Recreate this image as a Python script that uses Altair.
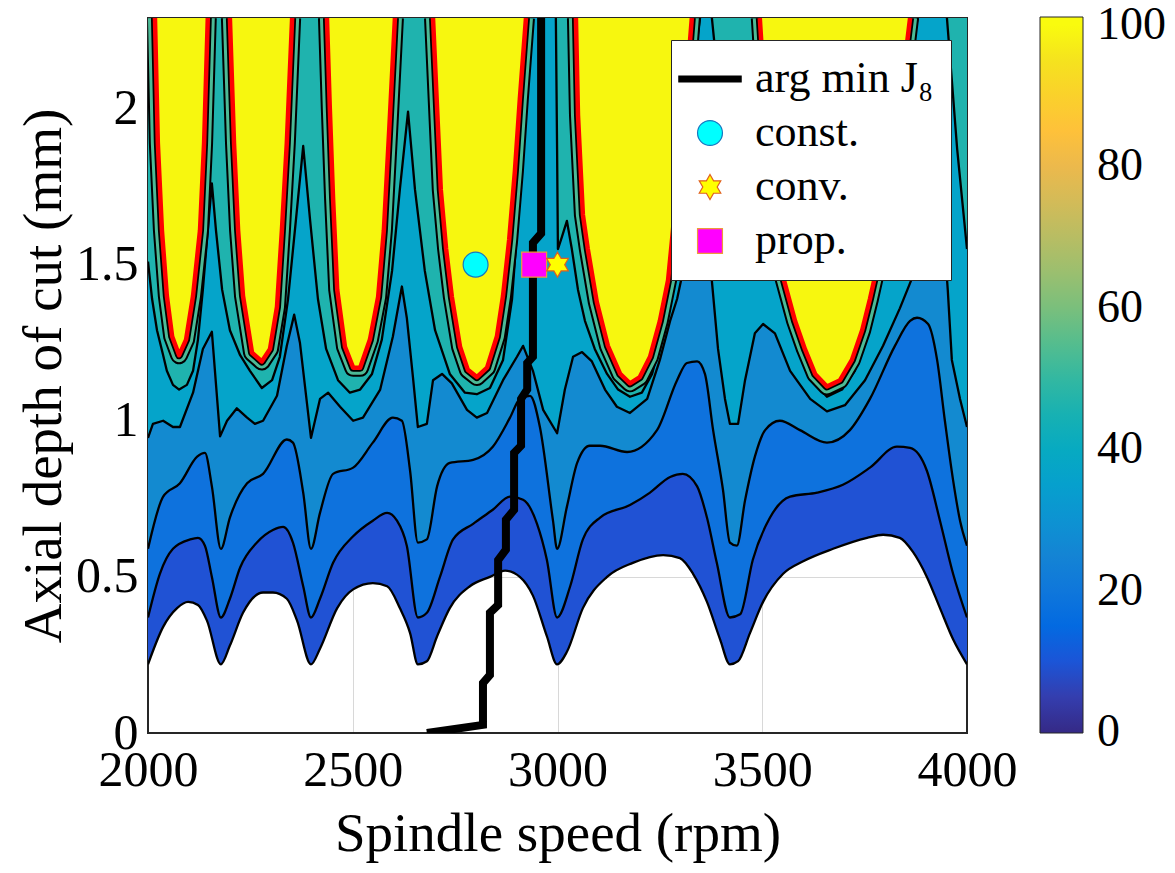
import altair as alt
import pandas as pd

FONT = "Liberation Serif"
X_DOMAIN = [2000, 4000]
Y_TOP = 2.29
X_TICKS = [2000, 2500, 3000, 3500, 4000]
Y_TICKS = [0, 0.5, 1, 1.5, 2]

# ---------------- contour boundaries (rpm, mm) ----------------
L0_X = [2000, 2037, 2071, 2098, 2122, 2144, 2178, 2200, 2232, 2281, 2305, 2339, 2364, 2398,
        2420, 2462, 2501, 2549, 2584, 2615, 2640, 2659, 2681, 2706, 2737, 2786, 2835, 2872,
        2908, 2940, 2974, 2999, 3023, 3062, 3121, 3184, 3258, 3299, 3331, 3365, 3397, 3421,
        3441, 3470, 3502, 3551, 3600, 3673, 3756, 3795, 3836, 3868, 3902, 3934, 3966, 4000]
L0_Y = [0.22, 0.34, 0.40, 0.42, 0.41, 0.36, 0.22, 0.28, 0.385, 0.45, 0.45, 0.43, 0.36, 0.22,
        0.27, 0.40, 0.46, 0.48, 0.47, 0.40, 0.32, 0.22, 0.23, 0.31, 0.40, 0.47, 0.50, 0.52,
        0.50, 0.44, 0.31, 0.22, 0.26, 0.40, 0.50, 0.545, 0.57, 0.56, 0.51, 0.42, 0.30, 0.22,
        0.23, 0.32, 0.42, 0.51, 0.55, 0.59, 0.625, 0.635, 0.625, 0.58, 0.50, 0.40, 0.30, 0.22]

L1_X = [2000, 2029, 2061, 2103, 2122, 2139, 2156, 2178, 2200, 2225, 2266, 2305, 2330, 2354,
        2379, 2398, 2420, 2452, 2501, 2549, 2584, 2608, 2632, 2659, 2681, 2713, 2745, 2794,
        2842, 2884, 2916, 2950, 2974, 2999, 3031, 3062, 3104, 3177, 3226, 3275, 3306, 3341,
        3365, 3389, 3421, 3446, 3477, 3519, 3568, 3634, 3697, 3763, 3829, 3861, 3902, 3934,
        3966, 4000]
L1_Y = [0.37, 0.51, 0.59, 0.62, 0.625, 0.60, 0.50, 0.37, 0.43, 0.53, 0.61, 0.65, 0.66, 0.61,
        0.47, 0.37, 0.43, 0.545, 0.63, 0.68, 0.705, 0.68, 0.60, 0.37, 0.385, 0.50, 0.62, 0.67,
        0.715, 0.757, 0.747, 0.67, 0.555, 0.37, 0.47, 0.62, 0.69, 0.73, 0.77, 0.82, 0.83, 0.79,
        0.69, 0.545, 0.37, 0.38, 0.555, 0.69, 0.757, 0.77, 0.795, 0.85, 0.917, 0.913, 0.84, 0.68,
        0.51, 0.37]

L2_X = [2000, 2037, 2078, 2120, 2139, 2156, 2178, 2200, 2242, 2281, 2339, 2354, 2379, 2398,
        2420, 2452, 2501, 2549, 2598, 2620, 2640, 2659, 2681, 2706, 2737, 2794, 2842, 2884,
        2908, 2933, 2957, 2989, 2999, 3023, 3048, 3079, 3104, 3170, 3243, 3292, 3316, 3341,
        3360, 3380, 3404, 3421, 3438, 3458, 3482, 3507, 3543, 3592, 3658, 3714, 3763, 3824,
        3861, 3878, 3905, 3927, 3946, 3966, 3983, 4000]
L2_Y = [0.59, 0.757, 0.80, 0.885, 0.897, 0.79, 0.59, 0.69, 0.80, 0.83, 0.94, 0.93, 0.77, 0.59,
        0.705, 0.83, 0.85, 0.93, 1.01, 1.00, 0.84, 0.61, 0.62, 0.79, 0.865, 0.875, 0.917, 1.01,
        1.07, 1.08, 0.98, 0.68, 0.59, 0.725, 0.865, 0.92, 0.92, 0.90, 0.97, 1.13, 1.185, 1.19,
        1.15, 0.97, 0.78, 0.61, 0.60, 0.745, 0.885, 0.97, 1.00, 0.97, 0.93, 0.97, 1.07, 1.24,
        1.32, 1.33, 1.31, 1.195, 1.00, 0.81, 0.68, 0.60]

L3_X = [2000, 2012, 2037, 2061, 2078, 2110, 2134, 2156, 2176, 2193, 2217, 2242, 2261, 2281,
        2315, 2339, 2357, 2371, 2398, 2420, 2440, 2469, 2501, 2525, 2567, 2598, 2620, 2632,
        2647, 2659, 2681, 2696, 2718, 2742, 2779, 2803, 2828, 2867, 2901, 2916, 2940, 2965,
        2999, 3018, 3038, 3060, 3084, 3116, 3145, 3177, 3219, 3250, 3275, 3292, 3323, 3348,
        3372, 3392, 3409, 3421, 3441, 3458, 3482, 3502, 3531, 3568, 3617, 3658, 3702, 3751,
        3795, 3836, 3873, 3910, 3946, 3953, 3963, 3983, 4000]
L3_Y = [0.945, 0.99, 1.00, 0.98, 0.98, 1.09, 1.23, 1.285, 0.95, 1.00, 1.04, 1.01, 0.99, 1.00,
        1.08, 1.24, 1.34, 1.25, 0.945, 1.07, 1.09, 1.045, 1.00, 1.01, 1.10, 1.27, 1.43, 1.33,
        1.14, 0.98, 0.99, 1.13, 1.15, 1.12, 1.035, 1.01, 1.025, 1.13, 1.205, 1.24, 1.16, 1.035,
        0.96, 1.10, 1.205, 1.22, 1.19, 1.10, 1.045, 1.025, 1.07, 1.195, 1.32, 1.39, 1.58, 1.71,
        1.52, 1.23, 1.07, 0.99, 0.99, 1.13, 1.28, 1.31, 1.28, 1.16, 1.07, 1.03, 1.05, 1.13,
        1.24, 1.36, 1.48, 1.58, 1.55, 1.42, 1.195, 1.07, 0.98]

L4_X = [2000, 2010, 2022, 2037, 2046, 2061, 2076, 2095, 2110, 2122, 2134, 2146, 2156, 2166,
        2181, 2200, 2225, 2249, 2278, 2303, 2322, 2342, 2361, 2379, 2396, 2415, 2435, 2464,
        2493, 2518, 2547, 2571, 2596, 2615, 2635, 2652, 2676, 2701, 2737, 2774, 2803, 2835,
        2867, 2889, 2903, 2913, 2926, 2957, 2996, 2999, 3001, 3011, 3023, 3035, 3050, 3067,
        3091, 3121, 3148, 3177, 3206, 3231, 3250, 3267, 3280, 3294, 3323, 3341, 3348, 3363,
        3377, 3387, 3402, 3416, 3429, 3441, 3458, 3475, 3485, 3492, 3499, 3514, 3531, 3543,
        3568, 3592, 3621, 3658, 3695, 3726, 3751, 3775, 3795, 3824, 3849, 3873, 3880, 3915,
        3951, 3963, 3976, 3988, 4000]
L4_Y = [1.51, 1.39, 1.29, 1.21, 1.16, 1.115, 1.10, 1.115, 1.16, 1.26, 1.42, 1.61, 1.76, 1.61,
        1.42, 1.29, 1.21, 1.16, 1.105, 1.13, 1.205, 1.39, 1.64, 1.88, 1.64, 1.39, 1.23, 1.13,
        1.09, 1.10, 1.15, 1.26, 1.48, 1.74, 1.99, 1.74, 1.48, 1.29, 1.15, 1.09, 1.085, 1.105,
        1.195, 1.39, 1.64, 1.93, 2.29, 2.40, 2.29, 1.87, 1.55, 1.59, 1.64, 1.55, 1.42, 1.32,
        1.23, 1.15, 1.10, 1.077, 1.09, 1.15, 1.245, 1.39, 1.52, 1.71, 2.03, 2.22, 2.29, 2.40,
        2.29, 2.16, 1.87, 1.70, 1.61, 1.70, 1.87, 2.16, 2.29, 2.40, 2.29, 2.03, 1.71, 1.48,
        1.32, 1.22, 1.13, 1.077, 1.10, 1.16, 1.26, 1.39, 1.52, 1.80, 2.06, 2.25, 2.29, 2.40,
        2.29, 2.09, 1.87, 1.71, 1.55]

# stability lobes (red boundary of the saturated region), one list per lobe
LOBE_X = [
    [2017, 2024, 2034, 2046, 2059, 2076, 2093, 2110, 2127, 2137, 2146],
    [2200, 2210, 2220, 2232, 2254, 2278, 2298, 2315, 2327, 2339, 2352],
    [2437, 2444, 2452, 2462, 2481, 2501, 2518, 2542, 2562, 2576, 2589, 2603],
    [2696, 2706, 2715, 2728, 2742, 2762, 2781, 2803, 2828, 2852, 2867, 2882, 2896, 2908, 2923],
    [3045, 3050, 3062, 3074, 3096, 3123, 3153, 3177, 3201, 3226, 3250, 3270, 3282, 3299, 3316, 3328],
    [3494, 3514, 3533, 3551, 3580, 3604, 3629, 3658, 3690, 3719, 3744, 3763, 3775, 3800, 3829, 3849, 3861],
]
LOBE_Y = [
    [2.29, 1.89, 1.61, 1.40, 1.27, 1.21, 1.26, 1.40, 1.61, 1.89, 2.29],
    [2.29, 1.89, 1.61, 1.40, 1.218, 1.19, 1.23, 1.365, 1.61, 1.89, 2.29],
    [2.29, 2.00, 1.71, 1.42, 1.237, 1.17, 1.17, 1.26, 1.397, 1.61, 1.93, 2.29],
    [2.29, 2.00, 1.74, 1.55, 1.397, 1.237, 1.163, 1.14, 1.17, 1.27, 1.40, 1.58, 1.80, 2.03, 2.29],
    [2.29, 1.98, 1.66, 1.55, 1.38, 1.24, 1.15, 1.12, 1.14, 1.205, 1.32, 1.45, 1.61, 1.87, 2.09, 2.29],
    [2.29, 1.87, 1.58, 1.46, 1.32, 1.23, 1.15, 1.11, 1.13, 1.195, 1.29, 1.39, 1.46, 1.64, 1.93, 2.16, 2.29],
]

# arg min J8 path
ARG_X = [2681, 2818, 2818, 2835, 2835, 2855, 2855, 2874, 2874, 2894, 2894, 2911, 2911, 2926,
         2926, 2940, 2940, 2960, 2960]
ARG_Y = [0.0, 0.026, 0.16, 0.186, 0.385, 0.41, 0.554, 0.587, 0.683, 0.715, 0.897, 0.92, 1.07,
         1.10, 1.185, 1.205, 1.57, 1.60, 2.29]

# markers
MARK_SERIES = ["const.", "prop.", "conv."]
MARK_X = [2800, 2943, 3000]
MARK_Y = [1.5, 1.5, 1.5]

LEGEND_NAMES = ["arg min J\u2088", "const.", "conv.", "prop."]
LEGEND_FILL = ["black", "#00FFFF", "#FFFF00", "#FF00FF"]
LEGEND_EDGE = ["black", "#1577C0", "#E0601E", "#EE9A3A"]

CBAR_VALUES = [0, 100]
CBAR_TICKS = [0, 20, 40, 60, 80, 100]
PARULA = ["#352A87", "#352A87", "#343EAF", "#1B55D7", "#036AE1", "#0F77DB", "#1484D4",
          "#0D93D2", "#06A0CD", "#07AAC1", "#18B1B2", "#33B8A1", "#55BD8E", "#7ABF7C",
          "#9BBF6F", "#B8BD63", "#D3BB58", "#ECB94C", "#FEC13A", "#FAD12B", "#F5E31E",
          "#F9FB0E", "#F9FB0E"]
PARULA_DOMAIN = [-0.15, 0, 5, 10, 15, 20, 25, 30, 35, 40, 45, 50, 55, 60, 65, 70, 75, 80,
                 85, 90, 95, 100, 101.1]

BAND_COLORS = ["#2052D4", "#0E72DD", "#138AD0", "#05A4CA", "#1FB3AE"]
YELLOW = "#F7F70F"
RING_GREEN = "#4CBA96"

LINE_PATH = "M-2.5,-0.24H2.5V0.24H-2.5Z"
STAR_PATH = ("M0,-1L0.289,-0.5L0.866,-0.5L0.577,0L0.866,0.5L0.289,0.5L0,1L-0.289,0.5"
             "L-0.866,0.5L-0.577,0L-0.866,-0.5L-0.289,-0.5Z")

# ---------------- data frames ----------------
def curve(xs, ys):
    return pd.DataFrame({"x": xs, "y": ys, "top": [Y_TOP] * len(xs),
                         "i": list(range(len(xs)))})

levels = [curve(L0_X, L0_Y), curve(L1_X, L1_Y), curve(L2_X, L2_Y),
          curve(L3_X, L3_Y), curve(L4_X, L4_Y)]

lobe_rows = []
for k, (xs, ys) in enumerate(zip(LOBE_X, LOBE_Y)):
    for j, (a, b) in enumerate(zip(xs, ys)):
        lobe_rows.append({"lobe": k, "x": a, "y": b, "top": Y_TOP, "i": j})
lobes = pd.DataFrame(lobe_rows)

argmin = curve(ARG_X, ARG_Y)
markers = pd.DataFrame({"series": MARK_SERIES, "x": MARK_X, "y": MARK_Y})
cbar = pd.DataFrame({"v": CBAR_VALUES})

# ---------------- encodings ----------------
X = alt.X("x:Q", scale=alt.Scale(domain=X_DOMAIN, nice=False, zero=False),
          axis=alt.Axis(values=X_TICKS, format="d", title="Spindle speed (rpm)",
                        titleY=117, titleBaseline="alphabetic", labelPadding=12,
                        labelFlush=False))
Y = alt.Y("y:Q", scale=alt.Scale(domain=[0, Y_TOP], nice=False, zero=False), stack=None,
          axis=alt.Axis(values=Y_TICKS, format="~g", title="Axial depth of cut (mm)",
                        titleX=-88, titleBaseline="alphabetic", labelPadding=10,
                        labelFlush=False))
TOP = alt.Y2("top:Q")

layers = []
for k, df in enumerate(levels):
    interp = "monotone" if k < 3 else "linear"
    layers.append(alt.Chart(df).mark_area(color=BAND_COLORS[k], interpolate=interp, clip=True,
                                          orient="vertical")
                  .encode(x=X, y=Y, y2=TOP))
for k, df in enumerate(levels):
    interp = "monotone" if k < 3 else "linear"
    layers.append(alt.Chart(df).mark_line(color="black", strokeWidth=2.3, interpolate=interp,
                                          clip=True, strokeJoin="round")
                  .encode(x=X, y=Y, order=alt.Order("i:Q")))

# rings around lobes, yellow fill, red boundary
for col, w in [("black", 18), (RING_GREEN, 14), ("black", 8)]:
    layers.append(alt.Chart(lobes).mark_line(color=col, strokeWidth=w, clip=True,
                                             strokeJoin="round")
                  .encode(x=X, y=Y, detail="lobe:N", order=alt.Order("i:Q")))
layers.append(alt.Chart(lobes).mark_area(color=YELLOW, clip=True, orient="vertical")
              .encode(x=X, y=Y, y2=TOP, detail="lobe:N"))
layers.append(alt.Chart(lobes).mark_line(color="#FF0000", strokeWidth=4.5, clip=True,
                                         strokeJoin="round")
              .encode(x=X, y=Y, detail="lobe:N", order=alt.Order("i:Q")))

# arg min line
layers.append(alt.Chart(argmin).mark_line(color="black", strokeWidth=8, clip=True,
                                          strokeJoin="miter")
              .encode(x=X, y=Y, order=alt.Order("i:Q")))

# markers with legend
leg = alt.Legend(orient="none", legendX=523, legendY=22, title=None, labelFont=FONT,
                 labelFontSize=44, labelColor="black", symbolSize=620, symbolStrokeWidth=1.2,
                 symbolOpacity=1, fillColor="white", strokeColor="#262626", padding=17,
                 rowPadding=10, labelOffset=23, labelLimit=400, zindex=2)
layers.append(alt.Chart(markers).mark_point(size=620, opacity=1, strokeWidth=1.2)
              .encode(x=X, y=Y,
                      shape=alt.Shape("series:N", scale=alt.Scale(domain=LEGEND_NAMES,
                                      range=[LINE_PATH, "circle", STAR_PATH, "square"]),
                                      legend=leg),
                      fill=alt.Fill("series:N", scale=alt.Scale(domain=LEGEND_NAMES,
                                    range=LEGEND_FILL), legend=leg),
                      stroke=alt.Stroke("series:N", scale=alt.Scale(domain=LEGEND_NAMES,
                                        range=LEGEND_EDGE), legend=leg)))

# colour bar
layers.append(alt.Chart(cbar).mark_point(opacity=0)
              .encode(color=alt.Color("v:Q",
                                      scale=alt.Scale(domain=PARULA_DOMAIN, range=PARULA),
                                      legend=alt.Legend(type="gradient", orient="none",
                                                        legendX=892, legendY=-1,
                                                        direction="vertical",
                                                        gradientLength=716,
                                                        gradientThickness=43,
                                                        title=None, values=CBAR_TICKS,
                                                        labelFont=FONT, labelFontSize=46,
                                                        labelOffset=14, labelColor="black",
                                                        gradientStrokeColor="#262626",
                                                        gradientStrokeWidth=1,
                                                        labelOverlap=False, zindex=2))))

chart = (alt.layer(*layers)
         .properties(width=819, height=715,
                     padding={"left": 148, "top": 18, "right": 208, "bottom": 140},
                     autosize=alt.AutoSizeParams(type="none"))
         .configure_view(stroke="#262626", strokeWidth=2)
         .configure_axis(labelFont=FONT, labelFontSize=50, labelColor="black",
                         titleFont=FONT, titleFontSize=55, titleFontWeight="normal",
                         titleColor="black", ticks=False, domainColor="#262626",
                         domainWidth=1, grid=True, gridColor="#262626", gridOpacity=0.18,
                         gridWidth=1, zindex=1)
         .configure_legend(strokeWidth=1))

chart.save("out.html", embed_options={"renderer": "svg", "actions": False})
